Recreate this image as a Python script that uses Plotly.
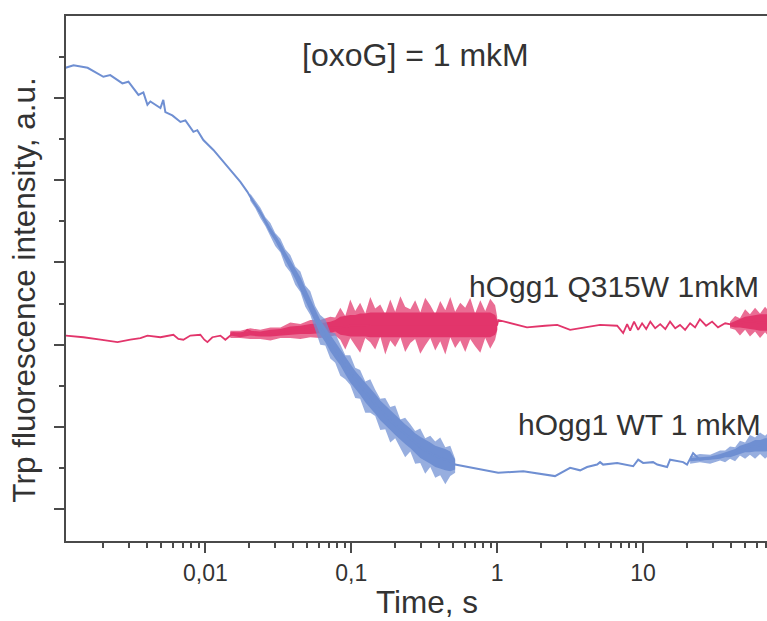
import plotly.graph_objects as go

# ---------------- data (time in s, intensity in a.u.) ----------------
# hOgg1 WT 1 mkM : mean trace
wt_t = [0.00110, 0.00125, 0.00156, 0.00200, 0.00223, 0.00270, 0.00297, 0.00348, 0.00376, 0.00401,
        0.00420, 0.00492, 0.00515, 0.00532, 0.00594, 0.00675, 0.00730, 0.00828, 0.00881, 0.00969,
        0.01135, 0.01268, 0.01483, 0.01738, 0.01941,
        0.0203, 0.0238, 0.0279, 0.0327, 0.0382, 0.0448, 0.0524, 0.0613, 0.0718, 0.0841, 0.0984,
        0.115, 0.135, 0.158, 0.185, 0.217, 0.254, 0.297, 0.348, 0.407, 0.477, 0.515,
        1.016, 1.51, 2.49, 2.83, 3.16, 3.70, 4.13, 4.84, 5.07, 5.32, 6.64, 8.55, 9.25, 10.0,
        11.7, 12.5, 14.6, 15.3, 18.8, 20.0, 22.0, 24.5, 32.1, 41.3, 51.5, 70.6, 86.7]
wt_v = [5.37, 5.40, 5.37, 5.26, 5.28, 5.18, 5.20, 5.04, 5.07, 4.92,
        4.96, 4.88, 4.98, 4.83, 4.79, 4.71, 4.73, 4.59, 4.61, 4.49,
        4.37, 4.27, 4.12, 3.98, 3.86,
        3.80, 3.61, 3.39, 3.19, 2.97, 2.75, 2.48, 2.21, 2.02, 1.85, 1.66,
        1.50, 1.35, 1.20, 1.08, 0.96, 0.86, 0.75, 0.68, 0.62, 0.58, 0.54,
        0.44, 0.46, 0.40, 0.45, 0.50, 0.47, 0.51, 0.54, 0.57, 0.54, 0.56, 0.52, 0.60, 0.56,
        0.57, 0.54, 0.51, 0.60, 0.57, 0.54, 0.68, 0.60, 0.63, 0.66, 0.75, 0.78, 0.80]

# WT noise envelope, fast phase: centre, spike height above, spike depth below, dense core
wt_n_t = [0.0203, 0.0220, 0.0238, 0.0258, 0.0279, 0.0301, 0.0327, 0.0353, 0.0382, 0.0413,
          0.0448, 0.0484, 0.0524, 0.0566, 0.0613, 0.0664, 0.0718, 0.0776, 0.0841, 0.0910,
          0.0984, 0.1064, 0.115, 0.1247, 0.135, 0.1459, 0.158, 0.171, 0.185, 0.200,
          0.217, 0.234, 0.254, 0.274, 0.297, 0.321, 0.348, 0.376, 0.407, 0.441,
          0.477, 0.515]
wt_n_c = [3.80, 3.70, 3.61, 3.50, 3.39, 3.30, 3.19, 3.08, 2.97, 2.86,
          2.75, 2.62, 2.48, 2.35, 2.21, 2.12, 2.02, 1.93, 1.85, 1.75,
          1.65, 1.57, 1.50, 1.42, 1.35, 1.28, 1.20, 1.14, 1.08, 1.02,
          0.96, 0.91, 0.86, 0.80, 0.75, 0.72, 0.68, 0.64, 0.62, 0.60,
          0.58, 0.54]
wt_n_up = [0.04, 0.05, 0.06, 0.05, 0.09, 0.06, 0.10, 0.08, 0.12, 0.09,
           0.14, 0.10, 0.17, 0.12, 0.15, 0.19, 0.13, 0.21, 0.16, 0.12,
           0.22, 0.15, 0.19, 0.13, 0.23, 0.17, 0.14, 0.21, 0.16, 0.24,
           0.13, 0.20, 0.17, 0.15, 0.23, 0.14, 0.21, 0.18, 0.25, 0.15,
           0.19, 0.07]
wt_n_dn = [0.05, 0.04, 0.07, 0.06, 0.07, 0.10, 0.07, 0.12, 0.09, 0.13,
           0.11, 0.16, 0.12, 0.18, 0.21, 0.13, 0.19, 0.15, 0.23, 0.17,
           0.14, 0.22, 0.16, 0.25, 0.18, 0.15, 0.24, 0.17, 0.27, 0.16,
           0.22, 0.28, 0.16, 0.25, 0.19, 0.29, 0.17, 0.26, 0.21, 0.30,
           0.18, 0.10]
wt_n_core = [0.02, 0.02, 0.03, 0.03, 0.04, 0.04, 0.05, 0.05, 0.06, 0.06,
             0.07, 0.07, 0.08, 0.08, 0.09, 0.09, 0.10, 0.10, 0.10, 0.11,
             0.11, 0.11, 0.11, 0.12, 0.12, 0.12, 0.12, 0.12, 0.12, 0.12,
             0.12, 0.12, 0.12, 0.12, 0.13, 0.13, 0.13, 0.13, 0.13, 0.13,
             0.12, 0.06]
# WT noise envelope, late phase
wt_l_t = [21.0, 24.5, 28.8, 33.7, 36.5, 39.4, 42.7, 46.1, 50.0, 54.0, 58.5, 63.3, 68.5, 74.2, 86.7]
wt_l_c = [0.60, 0.61, 0.62, 0.64, 0.66, 0.67, 0.69, 0.72, 0.74, 0.75, 0.77, 0.77, 0.78, 0.78, 0.79]
wt_l_up = [0.04, 0.06, 0.04, 0.07, 0.05, 0.09, 0.06, 0.11, 0.07, 0.15, 0.10, 0.16, 0.11, 0.17, 0.12]
wt_l_dn = [0.05, 0.04, 0.07, 0.05, 0.09, 0.06, 0.11, 0.07, 0.13, 0.09, 0.16, 0.10, 0.17, 0.11, 0.15]
wt_l_core = [0.02, 0.02, 0.02, 0.03, 0.03, 0.04, 0.04, 0.05, 0.05, 0.06, 0.07, 0.07, 0.08, 0.08, 0.08]

# hOgg1 Q315W 1mkM : mean trace
q_t = [0.00110, 0.00146, 0.00191, 0.00250, 0.00306, 0.00359, 0.00401, 0.00492, 0.00604, 0.00653,
       0.00707, 0.00789, 0.00924, 0.00984, 0.01033, 0.01117, 0.01268, 0.01371, 0.01556, 0.01738,
       0.01941, 0.02198, 0.02661, 0.03013, 0.03532, 0.0448,
       0.0524, 0.0613, 0.0718, 0.0841, 0.0984, 0.115, 0.135, 0.158, 0.185, 0.217,
       0.254, 0.297, 0.348, 0.407, 0.477, 0.558, 0.653, 0.766, 0.896, 1.0,
       1.016, 1.23, 1.60, 2.13, 2.58, 3.16, 4.01, 5.07, 6.64, 7.30,
       7.77, 8.15, 8.67, 9.25, 9.84, 10.5, 11.2, 12.1, 13.1, 14.2,
       15.3, 16.6, 17.9, 19.4, 21.0, 22.7, 24.5, 27.0, 29.7, 32.6,
       36.5, 41.3, 46.1, 54.0, 63.3, 80.2]
q_v = [2.11, 2.09, 2.06, 2.03, 2.06, 2.08, 2.11, 2.09, 2.12, 2.07,
       2.06, 2.11, 2.12, 2.06, 2.03, 2.09, 2.11, 2.06, 2.14, 2.11,
       2.18, 2.13, 2.15, 2.12, 2.17, 2.18,
       2.19, 2.20, 2.21, 2.21, 2.23, 2.23, 2.24, 2.24, 2.24, 2.24,
       2.24, 2.24, 2.24, 2.24, 2.24, 2.24, 2.24, 2.24, 2.24, 2.24,
       2.30, 2.26, 2.21, 2.23, 2.24, 2.18, 2.21, 2.24, 2.23, 2.14,
       2.25, 2.17, 2.28, 2.18, 2.26, 2.19, 2.28, 2.20, 2.25, 2.19,
       2.28, 2.20, 2.24, 2.18, 2.26, 2.21, 2.31, 2.23, 2.28, 2.21,
       2.26, 2.24, 2.27, 2.28, 2.27, 2.28]

# Q315W noise envelope, 0.015 - 1 s
q_n_t = [0.01483, 0.01738, 0.0203, 0.0238, 0.0279, 0.0327, 0.0382, 0.0448, 0.0524, 0.0613,
         0.0718, 0.0776, 0.0841, 0.0910, 0.0984, 0.1064, 0.115, 0.1247, 0.135, 0.1459,
         0.158, 0.171, 0.185, 0.200, 0.217, 0.234, 0.254, 0.274, 0.297, 0.321,
         0.348, 0.376, 0.407, 0.441, 0.477, 0.515, 0.558, 0.604, 0.653, 0.706,
         0.766, 0.828, 0.896, 0.968, 1.0]
q_n_c = [2.13, 2.12, 2.14, 2.13, 2.14, 2.15, 2.17, 2.18, 2.19, 2.20,
         2.21, 2.23, 2.23, 2.23, 2.23, 2.23, 2.24, 2.24, 2.24, 2.24,
         2.24, 2.24, 2.24, 2.24, 2.24, 2.24, 2.24, 2.24, 2.24, 2.24,
         2.24, 2.24, 2.24, 2.24, 2.24, 2.24, 2.24, 2.24, 2.24, 2.24,
         2.24, 2.24, 2.24, 2.24, 2.24]
q_n_up = [0.04, 0.05, 0.06, 0.05, 0.07, 0.06, 0.10, 0.07, 0.11, 0.10, 0.13, 0.10,
          0.22, 0.12, 0.32, 0.18, 0.27, 0.14, 0.34, 0.20, 0.25, 0.13,
          0.31, 0.16, 0.35, 0.22, 0.19, 0.30, 0.15, 0.33, 0.24, 0.13,
          0.29, 0.18, 0.34, 0.16, 0.27, 0.21, 0.33, 0.14, 0.30, 0.17,
          0.32, 0.24, 0.10]
q_n_dn = [0.05, 0.04, 0.07, 0.06, 0.09, 0.07, 0.09, 0.11, 0.10, 0.12, 0.11, 0.12,
          0.17, 0.29, 0.15, 0.24, 0.34, 0.16, 0.21, 0.30, 0.14, 0.36,
          0.19, 0.27, 0.15, 0.33, 0.22, 0.17, 0.35, 0.25, 0.16, 0.31,
          0.20, 0.36, 0.15, 0.28, 0.19, 0.33, 0.17, 0.26, 0.34, 0.16,
          0.29, 0.18, 0.07]
q_n_core = [0.02, 0.03, 0.03, 0.03, 0.04, 0.04, 0.05, 0.05, 0.06, 0.06, 0.07, 0.07,
            0.11, 0.12, 0.13, 0.13, 0.14, 0.14, 0.15, 0.15, 0.15, 0.15,
            0.15, 0.15, 0.15, 0.15, 0.15, 0.15, 0.15, 0.15, 0.15, 0.15,
            0.15, 0.15, 0.15, 0.15, 0.15, 0.15, 0.15, 0.15, 0.15, 0.15,
            0.15, 0.12, 0.06]
# Q315W noise envelope, late phase
q_l_t = [39.4, 42.7, 46.1, 50.0, 54.0, 58.5, 63.3, 68.5, 74.2, 86.7]
q_l_c = [2.24, 2.25, 2.26, 2.27, 2.27, 2.27, 2.27, 2.27, 2.27, 2.27]
q_l_up = [0.04, 0.10, 0.06, 0.16, 0.10, 0.18, 0.11, 0.19, 0.12, 0.18]
q_l_dn = [0.04, 0.07, 0.15, 0.09, 0.17, 0.11, 0.19, 0.12, 0.19, 0.15]
q_l_core = [0.02, 0.04, 0.05, 0.07, 0.08, 0.09, 0.10, 0.10, 0.10, 0.10]

x_tickvals = [0.01, 0.1, 1, 10]
x_ticktext = ["0,01", "0,1", "1", "10"]
y_tickvals = [0, 1, 2, 3, 4, 5]
y_minorvals = [0.5, 1.5, 2.5, 3.5, 4.5, 5.5]

BLUE = "#6f8fd2"
RED = "#e2356b"
AXC = "#4a4a4a"
TXT = "#333333"
FONT = "Liberation Sans, Arial, Helvetica, sans-serif"


def band(t, c, up, dn, color, opacity):
    hi = [a + b for a, b in zip(c, up)]
    lo = [a - b for a, b in zip(c, dn)]
    return go.Scatter(x=list(t) + list(t)[::-1], y=hi + lo[::-1], fill="toself",
                      fillcolor=color, opacity=opacity, line=dict(width=0),
                      mode="lines", hoverinfo="skip", showlegend=False)


fig = go.Figure()
# Q315W
fig.add_trace(band(q_n_t, q_n_c, q_n_up, q_n_dn, RED, 0.72))
fig.add_trace(band(q_n_t, q_n_c, q_n_core, q_n_core, RED, 1.0))
fig.add_trace(band(q_l_t, q_l_c, q_l_up, q_l_dn, RED, 0.72))
fig.add_trace(band(q_l_t, q_l_c, q_l_core, q_l_core, RED, 1.0))
fig.add_trace(go.Scatter(x=q_t, y=q_v, mode="lines", line=dict(color=RED, width=1.8),
                         showlegend=False))
# WT
fig.add_trace(band(wt_n_t, wt_n_c, wt_n_up, wt_n_dn, BLUE, 0.72))
fig.add_trace(band(wt_n_t, wt_n_c, wt_n_core, wt_n_core, BLUE, 1.0))
fig.add_trace(band(wt_l_t, wt_l_c, wt_l_up, wt_l_dn, BLUE, 0.72))
fig.add_trace(band(wt_l_t, wt_l_c, wt_l_core, wt_l_core, BLUE, 1.0))
fig.add_trace(go.Scatter(x=wt_t, y=wt_v, mode="lines", line=dict(color=BLUE, width=2),
                         showlegend=False))

fig.update_layout(
    width=767, height=621,
    margin=dict(l=66, r=0, t=16, b=80),
    paper_bgcolor="white", plot_bgcolor="white",
    font=dict(family=FONT, color=TXT),
    showlegend=False,
)
fig.update_xaxes(
    type="log", range=[-2.955, 1.849],
    showline=True, linecolor=AXC, linewidth=2, mirror=True,
    showgrid=False, zeroline=False,
    ticks="outside", ticklen=10, tickwidth=2, tickcolor=AXC,
    tickvals=x_tickvals, ticktext=x_ticktext,
    tickfont=dict(size=23, family=FONT, color=TXT),
    minor=dict(ticks="outside", ticklen=5, tickwidth=2, tickcolor=AXC,
               tickvals=[m * 10 ** e for e in (-3, -2, -1, 0, 1) for m in range(2, 10)],
               showgrid=False),
)
fig.update_yaxes(
    range=[-0.39, 6.0],
    showline=True, linecolor=AXC, linewidth=2, mirror=False,
    showgrid=False, zeroline=False,
    ticks="outside", ticklen=10, tickwidth=2, tickcolor=AXC,
    tickvals=y_tickvals, showticklabels=False,
    minor=dict(ticks="outside", ticklen=5, tickwidth=2, tickcolor=AXC,
               tickvals=y_minorvals, showgrid=False),
)

ann = dict(showarrow=False, xref="paper", yref="paper")
f_title = dict(family=FONT, size=31.5, color=TXT)
f_note = dict(family=FONT, size=32, color=TXT)
f_lab = dict(family=FONT, size=30, color=TXT)
fig.add_annotation(text="Time, s", x=0.515, y=-0.116, xanchor="center", yanchor="middle",
                   font=f_title, **ann)
fig.add_annotation(text="Trp fluorescence intensity, a.u.", textangle=-90,
                   x=-0.0605, y=0.478, xanchor="center", yanchor="middle", font=f_title, **ann)
fig.add_annotation(text="[oxoG] = 1 mkM", x=0.3338, y=0.9257, xanchor="left", yanchor="middle",
                   font=f_note, **ann)
fig.add_annotation(text="hOgg1 Q315W 1mkM", x=0.5720, y=0.4857, xanchor="left", yanchor="middle",
                   font=f_lab, **ann)
fig.add_annotation(text="hOgg1 WT 1 mkM", x=0.6420, y=0.221, xanchor="left", yanchor="middle",
                   font=f_lab, **ann)

fig.write_html("out.html")
